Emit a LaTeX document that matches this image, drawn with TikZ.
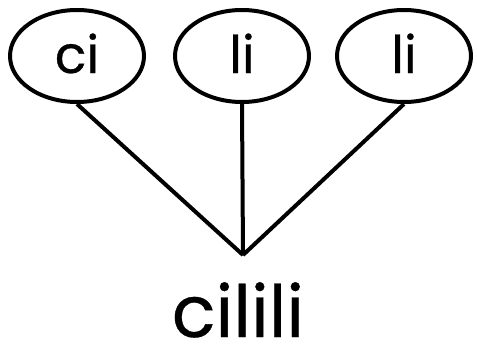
\documentclass[tikz,border=0pt]{standalone}
\usepackage{fontspec}
\setmainfont{Poppins}[FakeBold=0.5]
\usetikzlibrary{shapes.geometric}
\begin{document}
\begin{tikzpicture}[x=1pt,y=-1pt,
  leaf/.style={draw,line width=4pt,ellipse,minimum width=134pt,minimum height=92pt,inner sep=0pt},
  lab/.style={anchor=base,inner sep=0pt,text depth=0pt,font=\fontsize{52}{60}\selectfont},
  edge/.style={line width=4pt}]
\useasboundingbox (0,0) rectangle (477,346);
\node[leaf] (a) at (77,56) {};
\node[leaf] (b) at (242,56) {};
\node[leaf] (c) at (404,56) {};
\node[lab] (ta) at (77,73) {ci};
\node[lab] (tb) at (242,73) {li};
\node[lab] (tc) at (404,73) {li};
\coordinate (j) at (243,255);
\draw[edge] (a.south) -- (j);
\draw[edge] (b.south) -- (j);
\draw[edge] (c.south) -- (j);
\node[lab,font=\fontsize{72}{80}\selectfont] (r) at (238,337) {cilili};
\end{tikzpicture}
\end{document}
